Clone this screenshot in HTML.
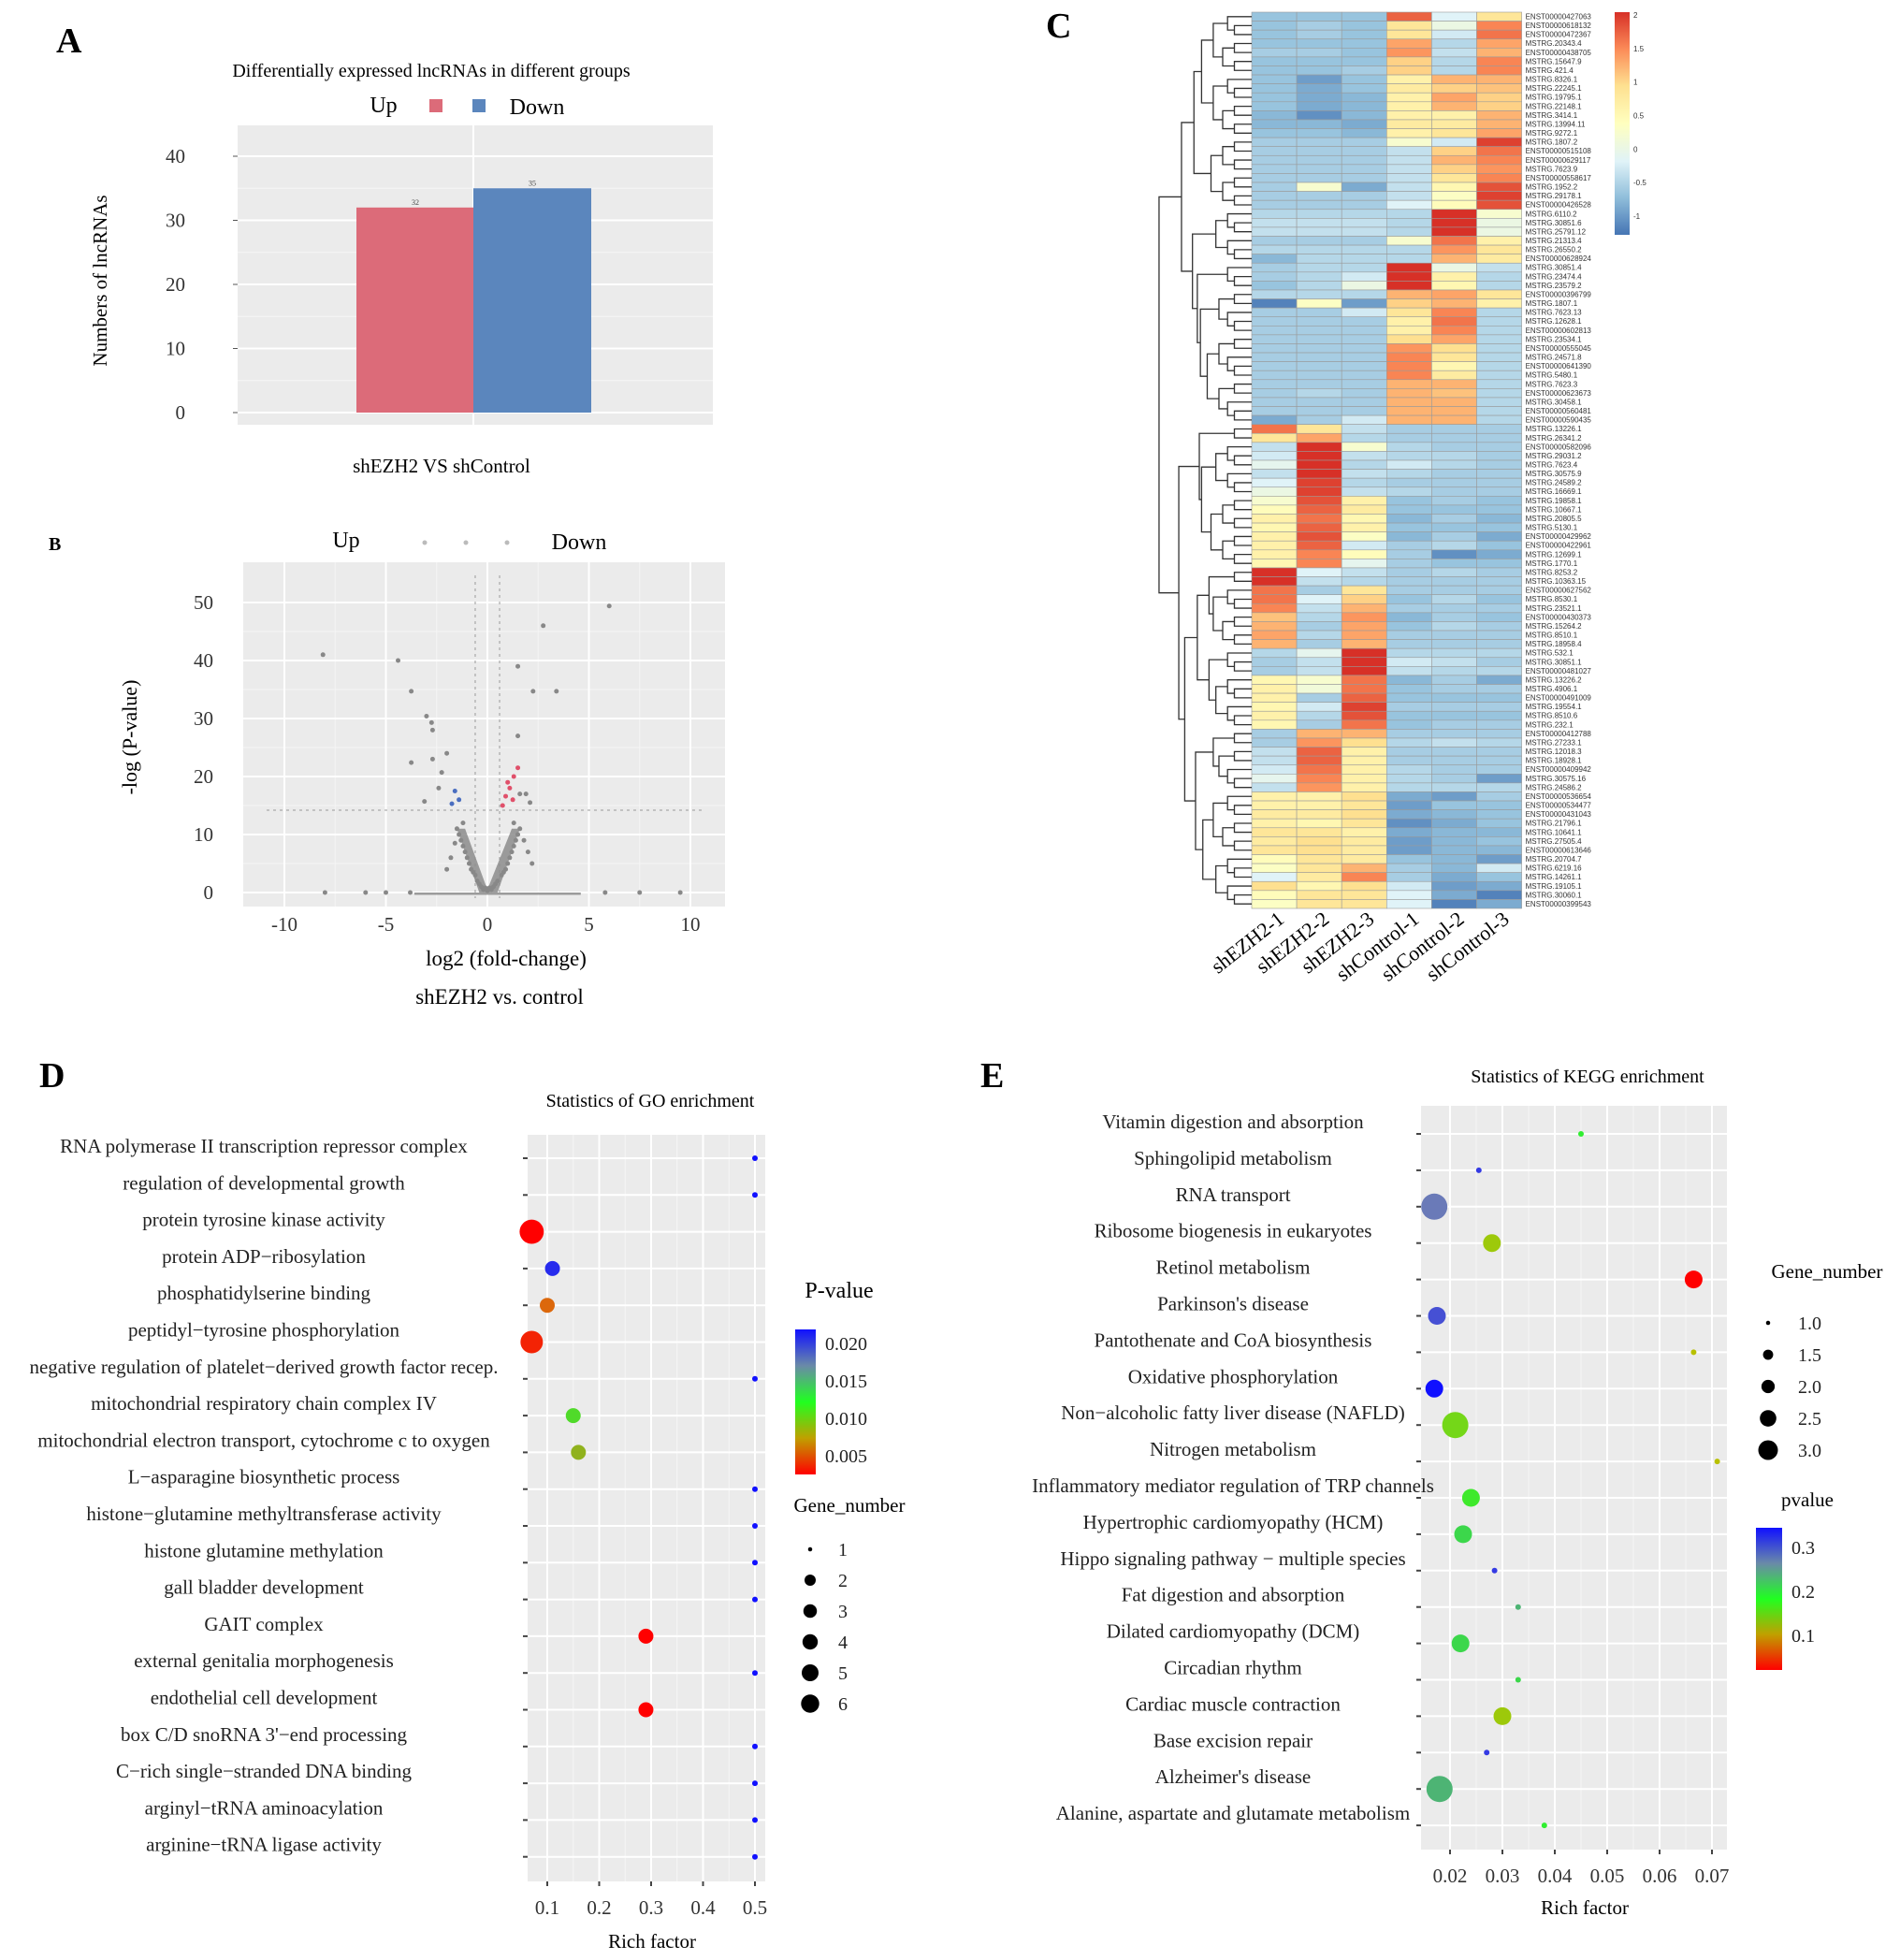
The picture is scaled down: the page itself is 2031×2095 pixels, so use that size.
<!DOCTYPE html>
<html><head><meta charset="utf-8">
<style>
html,body{margin:0;padding:0;background:#fff;}
svg{display:block;font-family:"Liberation Serif",serif;}
</style></head>
<body>
<svg id="fig" width="2031" height="2095" viewBox="0 0 2031 2095" xmlns="http://www.w3.org/2000/svg">
<rect x="0" y="0" width="2031" height="2095" fill="#fff"/>
<defs>
<linearGradient id="gHeat" x1="0" y1="1" x2="0" y2="0">
<stop offset="0" stop-color="#4575B4"/><stop offset="0.17" stop-color="#91BFDB"/><stop offset="0.33" stop-color="#E0F3F8"/><stop offset="0.5" stop-color="#FFFFBF"/><stop offset="0.67" stop-color="#FEE090"/><stop offset="0.83" stop-color="#FC8D59"/><stop offset="1" stop-color="#D73027"/>
</linearGradient>
<linearGradient id="gGO" x1="0" y1="1" x2="0" y2="0">
<stop offset="0" stop-color="#ff0000"/><stop offset="0.25" stop-color="#c0a000"/><stop offset="0.5" stop-color="#20ff20"/><stop offset="0.75" stop-color="#6a8aa8"/><stop offset="1" stop-color="#1010ff"/>
</linearGradient>
</defs>
<g id="A"></g>
<g id="B"></g>
<g id="C"></g>
<g id="D"></g>
<g id="E"></g>
</svg>
<script>
// ---------- DATA ----------
const barCategories = ["Up","Down"];
const barValues = [32,35];
const barYTicks = [0,10,20,30,40];

const volcGrayX = [-8.1,-4.4,-3.75,-3,-2.75,-2.7,-2,-3.75,-2.7,-2.25,-2.4,-3.1,1.5,2.25,3.4,2.75,6,1.5,1.6,1.9,2.1,-0.3,0.3,-0.5,0.5,-0.6,0.7,-0.8,0.9,-0.9,1.0,-1.0,1.1,-1.1,1.2,-1.2,1.3,-1.3,1.4,-1.4,1.5,-1.5,1.6,-1.2,1.3,-0.4,0.4,-0.2,0.2,-0.7,0.8,-2,2.2,-1.8,2,1.8,-1.6,0,-0.1,0.1,-8,-5,-3.8,-6,7.5,9.5,5.8];
const volcGrayY = [41,40,34.7,30.4,29.3,28,24,22.4,23,20.7,18,15.7,39,34.7,34.7,46,49.4,27,17,17,15.5,1,1,2,2,3,3,4,4,5,5,6,6,7,7,8,8,9,9,10,10,11,11,12,12,1.5,1.5,0.5,0.5,3.5,3.5,4,5,6,7,9,8.5,0.3,0.8,0.8,0,0,0,0,0,0,0];
const volcUpX = [1.3,1.0,0.9,1.25,0.75,1.5,1.1];
const volcUpY = [20,19,16.6,16,15,21.5,18];
const volcDownX = [-1.6,-1.75,-1.4];
const volcDownY = [17.5,15.3,16];
const volcXTicks = [-10,-5,0,5,10];
const volcYTicks = [0,10,20,30,40,50];

const heatSamples = ["shEZH2-1","shEZH2-2","shEZH2-3","shControl-1","shControl-2","shControl-3"];
const heatGenes = ["ENST00000427063","ENST00000618132","ENST00000472367","MSTRG.20343.4","ENST00000438705","MSTRG.15647.9","MSTRG.421.4","MSTRG.8326.1","MSTRG.22245.1","MSTRG.19795.1","MSTRG.22148.1","MSTRG.3414.1","MSTRG.13994.11","MSTRG.9272.1","MSTRG.1807.2","ENST00000515108","ENST00000629117","MSTRG.7623.9","ENST00000558617","MSTRG.1952.2","MSTRG.29178.1","ENST00000426528","MSTRG.6110.2","MSTRG.30851.6","MSTRG.25791.12","MSTRG.21313.4","MSTRG.26550.2","ENST00000628924","MSTRG.30851.4","MSTRG.23474.4","MSTRG.23579.2","ENST00000396799","MSTRG.1807.1","MSTRG.7623.13","MSTRG.12628.1","ENST00000602813","MSTRG.23534.1","ENST00000555045","MSTRG.24571.8","ENST00000641390","MSTRG.5480.1","MSTRG.7623.3","ENST00000623673","MSTRG.30458.1","ENST00000560481","ENST00000590435","MSTRG.13226.1","MSTRG.26341.2","ENST00000582096","MSTRG.29031.2","MSTRG.7623.4","MSTRG.30575.9","MSTRG.24589.2","MSTRG.16669.1","MSTRG.19858.1","MSTRG.10667.1","MSTRG.20805.5","MSTRG.5130.1","ENST00000429962","ENST00000422961","MSTRG.12699.1","MSTRG.1770.1","MSTRG.8253.2","MSTRG.10363.15","ENST00000627562","MSTRG.8530.1","MSTRG.23521.1","ENST00000430373","MSTRG.15264.2","MSTRG.8510.1","MSTRG.18958.4","MSTRG.532.1","MSTRG.30851.1","ENST00000481027","MSTRG.13226.2","MSTRG.4906.1","ENST00000491009","MSTRG.19554.1","MSTRG.8510.6","MSTRG.232.1","ENST00000412788","MSTRG.27233.1","MSTRG.12018.3","MSTRG.18928.1","ENST00000409942","MSTRG.30575.16","MSTRG.24586.2","ENST00000536654","ENST00000534477","ENST00000431043","MSTRG.21796.1","MSTRG.10641.1","MSTRG.27505.4","ENST00000613646","MSTRG.20704.7","MSTRG.6219.16","MSTRG.14261.1","MSTRG.19105.1","MSTRG.30060.1","ENST00000399543"];
const heatValues = [
[-0.7,-0.7,-0.7,1.7,-0.2,0.8],[-0.7,-0.6,-0.7,0.8,0,1.5],[-0.7,-0.6,-0.7,0.8,-0.3,1.6],[-0.7,-0.7,-0.7,1.3,-0.5,1.3],[-0.6,-0.6,-0.7,1.4,-0.4,1.2],
[-0.7,-0.7,-0.7,1.0,-0.5,1.5],[-0.7,-0.7,-0.6,1.0,-0.5,1.5],[-0.7,-1.0,-0.7,0.6,1.2,1.2],[-0.7,-0.9,-0.7,0.7,1.0,1.1],[-0.7,-0.9,-0.8,0.6,1.3,1.0],
[-0.7,-0.9,-0.8,0.6,1.2,1.0],[-0.8,-1.1,-0.8,0.6,0.6,1.2],[-0.8,-0.8,-0.9,0.7,0.7,1.2],[-0.7,-0.7,-0.8,0.6,0.8,1.3],[-0.6,-0.6,-0.6,0.2,-0.3,1.9],
[-0.6,-0.6,-0.6,-0.4,1.0,1.6],[-0.6,-0.6,-0.6,-0.4,1.2,1.5],[-0.6,-0.6,-0.6,-0.4,1.0,1.4],[-0.6,-0.6,-0.6,-0.4,0.8,1.5],[-0.6,0.2,-0.9,-0.4,0.5,1.8],
[-0.6,-0.6,-0.6,-0.4,0.3,1.9],[-0.6,-0.6,-0.6,-0.2,0.4,1.8],[-0.5,-0.5,-0.5,-0.5,2,0.2],[-0.4,-0.4,-0.4,-0.5,2,0],[-0.4,-0.4,-0.4,-0.5,2,0],
[-0.6,-0.6,-0.6,0.2,1.6,0.6],[-0.5,-0.5,-0.5,-0.5,1.4,0.8],[-0.8,-0.5,-0.5,-0.5,1.2,0.7],[-0.6,-0.5,-0.5,2,0,-0.4],[-0.6,-0.5,-0.3,2,0.6,-0.5],
[-0.7,-0.5,0,2,0.5,-0.5],[-0.5,-0.5,-0.5,1.2,1.3,0.8],[-1.2,0.3,-1,1.0,1.2,0.6],[-0.6,-0.6,-0.3,0.8,1.5,-0.5],[-0.6,-0.6,-0.6,0.6,1.6,-0.5],
[-0.6,-0.6,-0.6,0.6,1.5,-0.5],[-0.6,-0.6,-0.6,0.9,1.3,-0.5],[-0.6,-0.6,-0.6,1.4,0.9,-0.5],[-0.6,-0.6,-0.6,1.5,0.8,-0.5],[-0.6,-0.6,-0.6,1.5,0.5,-0.5],
[-0.6,-0.6,-0.6,1.5,0.7,-0.5],[-0.6,-0.6,-0.6,1.2,1.2,-0.5],[-0.6,-0.5,-0.6,1.2,1.1,-0.5],[-0.6,-0.6,-0.6,1.2,1.2,-0.5],[-0.6,-0.6,-0.6,1.2,1.2,-0.5],
[-0.9,-0.6,-0.3,1.2,1.2,-0.5],[1.6,0.8,-0.4,-0.6,-0.6,-0.6],[0.8,1.3,-0.5,-0.6,-0.6,-0.6],[-0.4,2,0.2,-0.5,-0.6,-0.6],[-0.3,2,-0.4,-0.5,-0.5,-0.6],
[-0.1,2,-0.5,-0.3,-0.5,-0.6],[-0.4,2,-0.4,-0.5,-0.6,-0.6],[-0.2,1.9,-0.5,-0.6,-0.6,-0.6],[0,1.9,-0.4,-0.5,-0.6,-0.6],[0.2,1.8,0.6,-0.7,-0.6,-0.7],
[0.4,1.7,0.7,-0.7,-0.7,-0.7],[0.6,1.6,0.5,-0.8,-0.6,-0.8],[0.5,1.7,0.6,-0.7,-0.7,-0.7],[0.6,1.8,0.3,-0.8,-0.6,-0.9],[0.6,1.7,-0.3,-0.6,-0.5,-0.7],
[0.6,1.5,0.4,-0.6,-1.1,-0.9],[0.5,1.5,-0.1,-0.6,-0.7,-0.7],[2,-0.2,-0.4,-0.6,-0.5,-0.6],[2,-0.4,-0.5,-0.6,-0.6,-0.6],[1.6,-0.6,0.8,-0.6,-0.6,-0.6],
[1.6,-0.2,1.0,-0.7,-0.5,-0.7],[1.5,-0.4,1.2,-0.6,-0.6,-0.6],[1.1,-0.5,1.4,-0.8,-0.6,-0.7],[1.2,-0.6,1.3,-0.7,-0.5,-0.6],[1.3,-0.5,1.3,-0.6,-0.6,-0.6],
[1.2,-0.6,1.2,-0.6,-0.6,-0.6],[-0.5,-0.1,2,-0.5,-0.5,-0.5],[-0.6,-0.4,2,-0.3,-0.4,-0.6],[-0.6,-0.4,2,-0.4,-0.5,-0.5],[0.5,0.2,1.6,-0.8,-0.6,-0.9],
[0.6,0.1,1.6,-0.7,-0.6,-0.6],[0.6,-0.6,1.7,-0.7,-0.7,-0.7],[0.5,-0.3,1.9,-0.6,-0.6,-0.6],[0.6,-0.5,1.8,-0.7,-0.7,-0.7],[0.5,-0.6,1.6,-0.7,-0.6,-0.6],
[-0.6,1.2,1.2,-0.6,-0.6,-0.6],[-0.6,1.4,0.9,-0.5,-0.4,-0.5],[-0.4,1.7,0.6,-0.6,-0.6,-0.6],[-0.4,1.7,0.6,-0.6,-0.6,-0.6],[-0.3,1.6,0.6,-0.5,-0.6,-0.6],
[-0.1,1.5,0.6,-0.5,-0.6,-1.0],[-0.4,1.4,0.6,-0.5,-0.5,-0.5],[0.6,0.6,0.9,-0.9,-1.0,-0.6],[0.6,0.6,0.8,-1.0,-0.7,-0.7],[0.7,0.7,0.9,-0.9,-0.8,-0.7],
[0.6,0.5,0.8,-1.1,-0.9,-0.7],[0.8,0.8,0.6,-0.9,-0.8,-0.8],[0.7,0.9,0.7,-1.0,-0.8,-0.7],[0.8,0.9,0.7,-1.0,-0.8,-0.8],[0.4,0.8,0.7,-0.7,-0.8,-1.0],
[0.3,0.8,1.2,-0.6,-0.8,-0.3],[-0.2,0.7,1.5,-0.6,-0.9,-0.7],[0.9,0.5,0.9,-0.3,-1.0,-0.9],[0.4,0.8,0.8,-0.2,-0.9,-1.2],[0.3,0.8,0.8,-0.2,-1.2,-0.9]];
const heatLegendTicks = [2,1.5,1,0.5,0,-0.5,-1];

const goTerms = ["RNA polymerase II transcription repressor complex","regulation of developmental growth","protein tyrosine kinase activity","protein ADP\u2212ribosylation","phosphatidylserine binding","peptidyl\u2212tyrosine phosphorylation","negative regulation of platelet\u2212derived growth factor recep.","mitochondrial respiratory chain complex IV","mitochondrial electron transport, cytochrome c to oxygen","L\u2212asparagine biosynthetic process","histone\u2212glutamine methyltransferase activity","histone glutamine methylation","gall bladder development","GAIT complex","external genitalia morphogenesis","endothelial cell development","box C/D snoRNA 3'\u2212end processing","C\u2212rich single\u2212stranded DNA binding","arginyl\u2212tRNA aminoacylation","arginine\u2212tRNA ligase activity"];
const goRich = [0.5,0.5,0.07,0.11,0.1,0.07,0.5,0.15,0.16,0.5,0.5,0.5,0.5,0.29,0.5,0.29,0.5,0.5,0.5,0.5];
const goGenes = [1,1,6,2,2,5,1,2,2,1,1,1,1,2,1,2,1,1,1,1];
const goP = [0.021,0.021,0.003,0.02,0.006,0.004,0.021,0.011,0.009,0.021,0.021,0.021,0.021,0.003,0.021,0.003,0.021,0.021,0.021,0.021];
const goXTicks = [0.1,0.2,0.3,0.4,0.5];
const goPTicks = [0.020,0.015,0.010,0.005];
const goSizeTicks = [1,2,3,4,5,6];

const keggTerms = ["Vitamin digestion and absorption","Sphingolipid metabolism","RNA transport","Ribosome biogenesis in eukaryotes","Retinol metabolism","Parkinson's disease","Pantothenate and CoA biosynthesis","Oxidative phosphorylation","Non\u2212alcoholic fatty liver disease (NAFLD)","Nitrogen metabolism","Inflammatory mediator regulation of TRP channels","Hypertrophic cardiomyopathy (HCM)","Hippo signaling pathway \u2212 multiple species","Fat digestion and absorption","Dilated cardiomyopathy (DCM)","Circadian rhythm","Cardiac muscle contraction","Base excision repair","Alzheimer's disease","Alanine, aspartate and glutamate metabolism"];
const keggRich = [0.045,0.0255,0.017,0.028,0.0665,0.0175,0.0665,0.017,0.021,0.071,0.024,0.0225,0.0285,0.033,0.022,0.033,0.030,0.027,0.018,0.038];
const keggGenes = [1,1,3,2,2,2,1,2,3,1,2,2,1,1,2,1,2,1,3,1];
const keggP = [0.2,0.33,0.3,0.12,0.02,0.32,0.1,0.35,0.15,0.1,0.19,0.22,0.33,0.25,0.22,0.22,0.12,0.33,0.25,0.2];
const keggXTicks = [0.02,0.03,0.04,0.05,0.06,0.07];
const keggPTicks = [0.3,0.2,0.1];
const keggSizeTicks = [1.0,1.5,2.0,2.5,3.0];

// ---------- HELPERS ----------
const NS="http://www.w3.org/2000/svg";
function mk(parent,tag,attrs,text){const e=document.createElementNS(NS,tag);for(const k in attrs)e.setAttribute(k,attrs[k]);if(text!==undefined)e.textContent=text;parent.appendChild(e);return e;}
function hexLerp(a,b,t){const pa=[1,3,5].map(i=>parseInt(a.substr(i,2),16)),pb=[1,3,5].map(i=>parseInt(b.substr(i,2),16));return "rgb("+pa.map((v,i)=>Math.round(v+(pb[i]-v)*t)).join(",")+")";}
function ramp(stops,cols,v){if(v<=stops[0])return cols[0];for(let i=1;i<stops.length;i++){if(v<=stops[i])return hexLerp(cols[i-1],cols[i],(v-stops[i-1])/(stops[i]-stops[i-1]));}return cols[cols.length-1];}
const fig=document.getElementById('fig');

// ---------- PANEL A ----------
(function(){
const g=document.getElementById('A');
const yS=v=>441-v*6.85;
let t=mk(g,'text',{x:60,y:56,'font-size':38,'font-weight':'bold'},'A');

t=mk(g,'text',{x:461,y:82,'font-size':20,'text-anchor':'middle'},'Differentially expressed lncRNAs in different groups');

t=mk(g,'text',{x:410,y:120,'font-size':24,'text-anchor':'middle'},'Up');
let r=mk(g,'rect',{x:459,y:106,width:14,height:14,fill:'#dc6b79'});
r=mk(g,'rect',{x:505,y:106,width:14,height:14,fill:'#5b86bd'});
t=mk(g,'text',{x:574,y:122,'font-size':24,'text-anchor':'middle'},'Down');
r=mk(g,'rect',{x:254,y:134,width:508,height:320,fill:'#ebebeb'});
for(let v=5;v<=45;v+=10){if(yS(v)>134){const l=mk(g,'line',{x1:254,x2:762,y1:yS(v),y2:yS(v),stroke:'#f6f6f6','stroke-width':1});}}
barYTicks.forEach(v=>{const l=mk(g,'line',{x1:254,x2:762,y1:yS(v),y2:yS(v),stroke:'#fff','stroke-width':2});
 const tk=mk(g,'line',{x1:249,x2:254,y1:yS(v),y2:yS(v),stroke:'#555','stroke-width':1});
 const tl=mk(g,'text',{x:198,y:yS(v)+7,'font-size':21,'text-anchor':'end',fill:'#333'},String(v));});
const vl=mk(g,'line',{x1:506,x2:506,y1:134,y2:454,stroke:'#fff','stroke-width':2});
const cols=['#dc6b79','#5b86bd'];const bx=[381,506];
barValues.forEach((v,i)=>{const b=mk(g,'rect',{x:bx[i],y:yS(v),width:126,height:yS(0)-yS(v),fill:cols[i]});
 
 const vt=mk(g,'text',{x:bx[i]+63,y:yS(v)-3,'font-size':8,'text-anchor':'middle',fill:'#444'},String(v));});
t=mk(g,'text',{x:0,y:0,'font-size':21,'text-anchor':'middle',transform:'translate(114,300) rotate(-90)'},'Numbers of lncRNAs');
t=mk(g,'text',{x:472,y:505,'font-size':21,'text-anchor':'middle'},'shEZH2 VS shControl');
})();

// ---------- PANEL B ----------
(function(){
const g=document.getElementById('B');
const xS=v=>521+v*21.7, yS=v=>954-v*6.2;
let t=mk(g,'text',{x:52,y:588,'font-size':20,'font-weight':'bold'},'B');
t=mk(g,'text',{x:370,y:585,'font-size':24,'text-anchor':'middle'},'Up');
[454,498,542].forEach((x,i)=>{const c=mk(g,'circle',{cx:x,cy:580,r:2.5,fill:'#bbb'});});
t=mk(g,'text',{x:619,y:587,'font-size':24,'text-anchor':'middle'},'Down');
let r=mk(g,'rect',{x:260,y:601,width:515,height:368,fill:'#ebebeb'});
[-7.5,-2.5,2.5,7.5].forEach(v=>{const l=mk(g,'line',{x1:xS(v),x2:xS(v),y1:601,y2:969,stroke:'#f5f5f5','stroke-width':1});});
[5,15,25,35,45].forEach(v=>{const l=mk(g,'line',{x1:260,x2:775,y1:yS(v),y2:yS(v),stroke:'#f5f5f5','stroke-width':1});});
volcXTicks.forEach(v=>{const l=mk(g,'line',{x1:xS(v),x2:xS(v),y1:601,y2:969,stroke:'#fff','stroke-width':2});
 const tl=mk(g,'text',{x:xS(v),y:995,'font-size':21,'text-anchor':'middle',fill:'#333'},String(v));});
volcYTicks.forEach(v=>{const l=mk(g,'line',{x1:260,x2:775,y1:yS(v),y2:yS(v),stroke:'#fff','stroke-width':2});
 const tl=mk(g,'text',{x:228,y:yS(v)+7,'font-size':21,'text-anchor':'end',fill:'#333'},String(v));});
let l=mk(g,'line',{x1:xS(-0.6),x2:xS(-0.6),y1:615,y2:960,stroke:'#999','stroke-dasharray':'3,4'});
l=mk(g,'line',{x1:xS(0.6),x2:xS(0.6),y1:615,y2:960,stroke:'#999','stroke-dasharray':'3,4'});
l=mk(g,'line',{x1:285,x2:752,y1:yS(14.2),y2:yS(14.2),stroke:'#999','stroke-dasharray':'3,4'});
let p=mk(g,'path',{d:`M${xS(-3.6)},${yS(0)} L${xS(-0.4)},${yS(0)} L${xS(-1.5)},${yS(11)} L${xS(-1.1)},${yS(11)} L${xS(0)},${yS(0.5)} L${xS(1.2)},${yS(11)} L${xS(1.6)},${yS(11)} L${xS(0.5)},${yS(0)} L${xS(4.6)},${yS(0)} L${xS(4.6)},${yS(-0.4)} L${xS(-3.6)},${yS(-0.4)} Z`,fill:'#8c8c8c',opacity:0.85});

volcGrayX.forEach((x,i)=>{const c=mk(g,'circle',{cx:xS(x),cy:yS(volcGrayY[i]),r:2.5,fill:'#888'});});
volcUpX.forEach((x,i)=>{const c=mk(g,'circle',{cx:xS(x),cy:yS(volcUpY[i]),r:2.5,fill:'#e0506a'});});
volcDownX.forEach((x,i)=>{const c=mk(g,'circle',{cx:xS(x),cy:yS(volcDownY[i]),r:2.5,fill:'#4a6ec0'});});
t=mk(g,'text',{x:0,y:0,'font-size':22,'text-anchor':'middle',transform:'translate(146,788) rotate(-90)'},'-log (P-value)');
t=mk(g,'text',{x:541,y:1032,'font-size':23,'text-anchor':'middle'},'log2 (fold-change)');
t=mk(g,'text',{x:534,y:1073,'font-size':23,'text-anchor':'middle'},'shEZH2 vs. control');
})();

// ---------- PANEL C ----------
(function(){
const g=document.getElementById('C');
let t=mk(g,'text',{x:1118,y:40,'font-size':38,'font-weight':'bold'},'C');
const x0=1338,cw=48.1,y0=13,rh=9.58;
const stops=[-1.3,-0.75,-0.2,0.35,0.9,1.45,2],cols=['#4575B4','#91BFDB','#E0F3F8','#FFFFBF','#FEE090','#FC8D59','#D73027'];
heatValues.forEach((row,i)=>{row.forEach((v,j)=>{const c=mk(g,'rect',{x:x0+j*cw,y:y0+i*rh,width:cw,height:rh,fill:ramp(stops,cols,v),stroke:'#9a9a9a','stroke-width':0.6});
 });
 const gl=mk(g,'text',{x:x0+6*cw+4,y:y0+i*rh+7.5,'font-size':8,fill:'#333','font-family':'Liberation Sans, sans-serif'},heatGenes[i]);});
heatSamples.forEach((s,j)=>{const cx=x0+j*cw+cw/2+12,cy=y0+100*rh+14;const tl=mk(g,'text',{x:0,y:0,'font-size':22,'text-anchor':'end',transform:`translate(${cx},${cy}) rotate(-38)`},s);
 });
const splits={"0-100":46,"0-46":22,"0-22":14,"0-14":7,"22-46":28,"28-46":31,"31-46":36,"46-100":62,"46-62":48,"48-62":54,"62-100":80,"62-80":71,"62-71":64,"71-80":74,"80-100":87,"80-87":82,"87-100":94};
const dg=mk(g,'g',{stroke:'#333','stroke-width':1.3,fill:'none'});
function node(lo,hi){if(hi-lo===1)return{x:x0,y:y0+lo*rh+rh/2};const key=lo+'-'+hi;const m=splits[key]!==undefined?splits[key]:Math.floor((lo+hi)/2);
 const a=node(lo,m),b=node(m,hi);const n=hi-lo;const x=x0-6-Math.log2(n)*12.5-(n===100?10:0);
 mk(dg,'path',{d:`M${a.x},${a.y} H${x} V${b.y} H${b.x}`});return{x:x,y:(a.y+b.y)/2};}
node(0,100);
let r=mk(g,'rect',{x:1726,y:13,width:16,height:238,fill:'url(#gHeat)'});
heatLegendTicks.forEach(v=>{const y=16+(2-v)/3*215;const tl=mk(g,'text',{x:1746,y:y+3,'font-size':8,fill:'#333','font-family':'Liberation Sans, sans-serif'},String(v));});
})();

// ---------- DOT PLOT helper ----------
function dotPlot(g,cfg){
 const {px,py,pw,ph,xS,rowY,terms,rich,genes,pv,colorFn,rFn,xTicks,xFmt,labelX,labelAnchor,labelSize}=cfg;
 let r=mk(g,'rect',{x:px,y:py,width:pw,height:ph,fill:'#ebebeb'});
 for(let i=0;i<xTicks.length-1;i++){const xm=(xS(xTicks[i])+xS(xTicks[i+1]))/2;const l=mk(g,'line',{x1:xm,x2:xm,y1:py,y2:py+ph,stroke:'#f6f6f6','stroke-width':1});}
 xTicks.forEach(v=>{const l=mk(g,'line',{x1:xS(v),x2:xS(v),y1:py,y2:py+ph,stroke:'#fff','stroke-width':2});
  const tk=mk(g,'line',{x1:xS(v),x2:xS(v),y1:py+ph,y2:py+ph+5,stroke:'#444','stroke-width':2});
  const tl=mk(g,'text',{x:xS(v),y:py+ph+35,'font-size':21,'text-anchor':'middle',fill:'#333'},xFmt(v));});
 terms.forEach((s,i)=>{const y=rowY(i);const l=mk(g,'line',{x1:px,x2:px+pw,y1:y,y2:y,stroke:'#fff','stroke-width':2});
  const tk=mk(g,'line',{x1:px-5,x2:px,y1:y,y2:y,stroke:'#444','stroke-width':2});
  const tl=mk(g,'text',{x:labelX,y:y-6,'font-size':labelSize,'text-anchor':labelAnchor,fill:'#222'},s);});
 terms.forEach((s,i)=>{const c=mk(g,'circle',{cx:xS(rich[i]),cy:rowY(i),r:rFn(genes[i]),fill:colorFn(pv[i])});});
}

// ---------- PANEL D ----------
(function(){
const g=document.getElementById('D');
let t=mk(g,'text',{x:42,y:1162,'font-size':38,'font-weight':'bold'},'D');
t=mk(g,'text',{x:695,y:1183,'font-size':20,'text-anchor':'middle'},'Statistics of GO enrichment');
const pcol=p=>ramp([0.003,0.007,0.012,0.017,0.021],['#ff0000','#d08a10','#30ee30','#6a7ab8','#1010ff'],p);
const rS=n=>n<=1?3:4+4*Math.sqrt(n-1);
dotPlot(g,{px:564,py:1213,pw:254,ph:798,xS:v=>585+(v-0.1)*555,rowY:i=>1238+i*39.3,terms:goTerms,rich:goRich,genes:goGenes,pv:goP,colorFn:pcol,rFn:rS,xTicks:goXTicks,xFmt:v=>String(v),labelX:282,labelAnchor:'middle',labelSize:21});
t=mk(g,'text',{x:697,y:2082,'font-size':21,'text-anchor':'middle'},'Rich factor');
t=mk(g,'text',{x:897,y:1387,'font-size':24,'text-anchor':'middle'},'P-value');
let r=mk(g,'rect',{x:850,y:1421,width:22,height:155,fill:'url(#gGO)'});
goPTicks.forEach(v=>{const y=1436+(0.020-v)/0.015*120;const tl=mk(g,'text',{x:882,y:y+7,'font-size':20,fill:'#222'},v.toFixed(3));});
t=mk(g,'text',{x:908,y:1616,'font-size':21,'text-anchor':'middle'},'Gene_number');
goSizeTicks.forEach((v,i)=>{const y=1656+i*33;const c=mk(g,'circle',{cx:866,cy:y,r:rS(v)*0.75,fill:'#000'});
 const tl=mk(g,'text',{x:896,y:y+7,'font-size':20,fill:'#222'},String(v));});
})();

// ---------- PANEL E ----------
(function(){
const g=document.getElementById('E');
let t=mk(g,'text',{x:1048,y:1162,'font-size':38,'font-weight':'bold'},'E');
t=mk(g,'text',{x:1697,y:1157,'font-size':20,'text-anchor':'middle'},'Statistics of KEGG enrichment');
const pcol=p=>ramp([0.02,0.1,0.2,0.3,0.35],['#ff0000','#b8c000','#30ee30','#6a7ab8','#1010ff'],p);
const rS=n=>n<=1?3:5+4.5*(n-1);
dotPlot(g,{px:1519,py:1182,pw:327,ph:795,xS:v=>1550+(v-0.02)*5600,rowY:i=>1212+i*38.9,terms:keggTerms,rich:keggRich,genes:keggGenes,pv:keggP,colorFn:pcol,rFn:rS,xTicks:keggXTicks,xFmt:v=>v.toFixed(2),labelX:1318,labelAnchor:'middle',labelSize:21});
t=mk(g,'text',{x:1694,y:2046,'font-size':21,'text-anchor':'middle'},'Rich factor');
t=mk(g,'text',{x:1953,y:1366,'font-size':21,'text-anchor':'middle'},'Gene_number');
keggSizeTicks.forEach((v,i)=>{const y=1414+i*34;const c=mk(g,'circle',{cx:1890,cy:y,r:rS(v)*0.75,fill:'#000'});
 const tl=mk(g,'text',{x:1922,y:y+7,'font-size':20,fill:'#222'},v.toFixed(1));});
t=mk(g,'text',{x:1932,y:1610,'font-size':21,'text-anchor':'middle'},'pvalue');
let r=mk(g,'rect',{x:1877,y:1633,width:28,height:152,fill:'url(#gGO)'});
keggPTicks.forEach(v=>{const y=1654+(0.3-v)/0.2*94;const tl=mk(g,'text',{x:1915,y:y+7,'font-size':20,fill:'#222'},String(v));});
})();
</script>
</body></html>
